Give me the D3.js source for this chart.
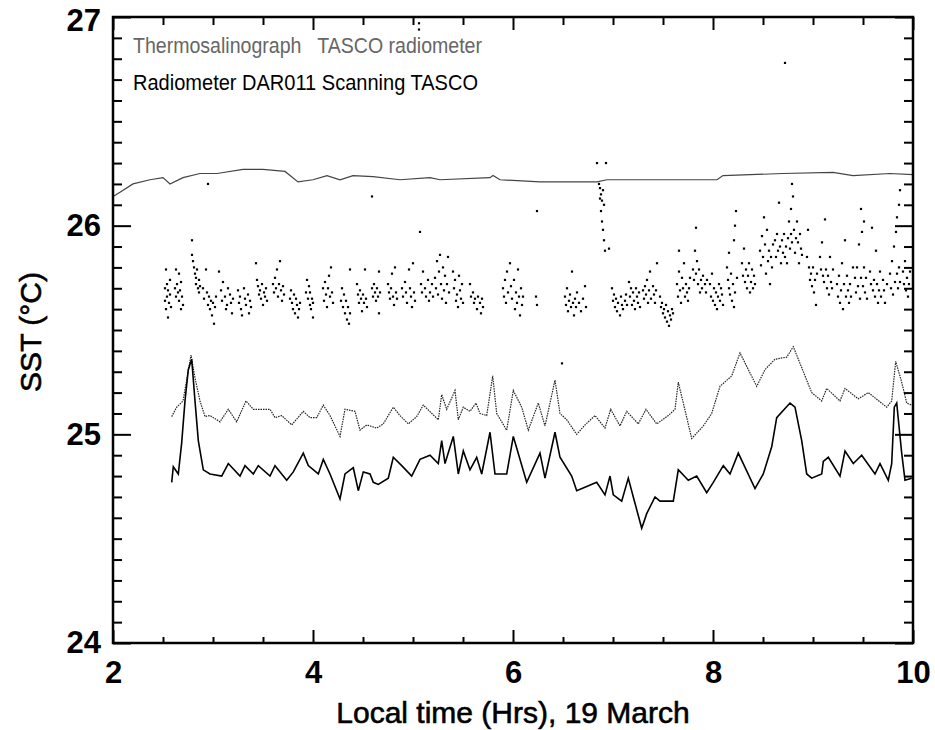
<!DOCTYPE html>
<html>
<head>
<meta charset="utf-8">
<script src="https://cdn.jsdelivr.net/npm/d3@7"></script>
<style>
  body { margin: 0; background: #fff; }
  svg text { font-family: "Liberation Sans", Arial, Helvetica, sans-serif; }
</style>
</head>
<body>
<script>
// axis ticks
var xMajor = [2, 4, 6, 8, 10];
var yMajor = [24, 25, 26, 27];

// thermosalinograph trace [hour, SST]
var thermo = [[2.00,26.14],[2.07,26.16],[2.20,26.20],[2.37,26.22],[2.50,26.23],[2.57,26.20],
  [2.70,26.23],[2.87,26.25],[3.04,26.25],[3.30,26.27],[3.50,26.27],[3.72,26.26],[3.85,26.21],
  [4.00,26.22],[4.14,26.24],[4.27,26.22],[4.40,26.24],[4.60,26.235],[4.87,26.22],[5.17,26.23],
  [5.27,26.22],[5.77,26.23],[5.80,26.24],[5.87,26.22],[6.27,26.21],[6.84,26.21],[6.94,26.22],
  [7.57,26.22],[8.04,26.22],[8.10,26.24],[8.70,26.25],[9.20,26.255],[9.40,26.24],[9.77,26.25],[10.0,26.245]];

// radiometer DAR011 trace
var dar011 = [[2.587,25.085],[2.637,25.13],[2.70,25.16],[2.737,25.26],[2.78,25.38],[2.82,25.27],
  [2.87,25.16],[2.92,25.085],[2.97,25.09],[3.07,25.06],[3.153,25.12],[3.237,25.06],[3.33,25.16],
  [3.403,25.12],[3.57,25.12],[3.62,25.08],[3.687,25.09],[3.787,25.045],[3.903,25.11],[3.97,25.08],
  [4.037,25.08],[4.103,25.14],[4.17,25.09],[4.27,24.99],[4.32,25.12],[4.42,25.11],[4.47,25.02],
  [4.537,25.045],[4.637,25.03],[4.703,25.05],[4.803,25.13],[4.87,25.09],[4.953,25.05],[5.037,25.085],
  [5.103,25.14],[5.253,25.07],[5.287,25.19],[5.337,25.12],[5.42,25.21],[5.453,25.07],[5.503,25.13],
  [5.57,25.11],[5.63,25.15],[5.67,25.10],[5.737,25.09],[5.797,25.28],[5.837,25.10],[5.937,25.02],
  [6.003,25.21],[6.087,25.13],[6.153,25.02],[6.253,25.15],[6.32,25.04],[6.37,25.15],[6.42,25.26],
  [6.47,25.10],[6.537,25.07],[6.637,25.00],[6.72,25.045],[6.82,25.09],[6.92,25.03],[6.977,25.12],
  [7.07,25.04],[7.137,25.11],[7.253,25.05],[7.33,25.12],[7.437,25.05],[7.553,25.09],[7.62,25.12],
  [7.653,25.25],[7.703,25.15],[7.787,24.98],[7.903,25.04],[7.987,25.10],[8.07,25.23],[8.187,25.28],
  [8.27,25.39],[8.437,25.23],[8.52,25.31],[8.62,25.36],[8.737,25.37],[8.803,25.42],[8.887,25.32],
  [8.987,25.20],[9.087,25.16],[9.137,25.22],[9.27,25.16],[9.32,25.22],[9.453,25.17],[9.553,25.20],
  [9.737,25.13],[9.787,25.16],[9.827,25.35],[9.887,25.25],[9.937,25.15],[9.987,25.14]];

// scanning TASCO trace
var scanning = [[2.587,24.77],[2.603,24.845],[2.653,24.81],[2.687,24.96],[2.72,25.16],[2.753,25.31],
  [2.787,25.36],[2.82,25.16],[2.853,24.97],[2.903,24.83],[2.97,24.81],[3.087,24.80],[3.153,24.86],
  [3.27,24.80],[3.32,24.85],[3.403,24.81],[3.453,24.85],[3.57,24.80],[3.62,24.85],[3.737,24.78],
  [3.803,24.82],[3.903,24.91],[3.953,24.85],[4.053,24.81],[4.103,24.88],[4.17,24.81],[4.27,24.69],
  [4.32,24.81],[4.403,24.84],[4.453,24.73],[4.503,24.82],[4.57,24.81],[4.603,24.77],[4.653,24.76],
  [4.753,24.79],[4.803,24.89],[4.887,24.85],[4.987,24.80],[5.07,24.88],[5.17,24.90],[5.253,24.86],
  [5.287,24.97],[5.32,24.86],[5.403,24.99],[5.453,24.81],[5.503,24.92],[5.57,24.83],[5.637,24.89],
  [5.687,24.81],[5.77,25.01],[5.82,24.81],[5.937,24.81],[6.003,24.99],[6.137,24.77],[6.27,24.91],
  [6.32,24.79],[6.42,25.01],[6.47,24.89],[6.587,24.80],[6.637,24.73],[6.737,24.75],[6.837,24.77],
  [6.92,24.71],[6.97,24.80],[7.003,24.71],[7.087,24.68],[7.153,24.79],[7.203,24.70],[7.287,24.55],
  [7.337,24.62],[7.42,24.70],[7.47,24.68],[7.603,24.68],[7.653,24.83],[7.753,24.78],[7.837,24.80],
  [7.937,24.72],[8.003,24.77],[8.103,24.85],[8.17,24.81],[8.253,24.91],[8.42,24.74],[8.503,24.81],
  [8.587,24.94],[8.637,25.08],[8.77,25.15],[8.82,25.13],[8.887,24.97],[8.937,24.81],[8.987,24.79],
  [9.087,24.81],[9.103,24.87],[9.153,24.89],[9.27,24.80],[9.32,24.92],[9.403,24.86],[9.487,24.90],
  [9.62,24.81],[9.67,24.86],[9.753,24.78],[9.787,24.86],[9.813,25.13],[9.837,25.15],[9.887,24.91],
  [9.92,24.78],[9.987,24.79]];

// TASCO radiometer samples (dots)
var tasco = [
  [2.52,25.70],[2.52,25.64],[2.53,25.79],[2.53,25.60],[2.54,25.72],[2.54,25.66],[2.55,25.69],[2.55,25.56],[2.56,25.63],[2.57,25.67],[2.57,25.74],[2.58,25.61],
  [2.62,25.70],[2.63,25.79],[2.63,25.66],[2.64,25.72],[2.65,25.68],[2.66,25.77],[2.66,25.64],[2.67,25.69],[2.68,25.60],[2.68,25.73],[2.69,25.66],[2.70,25.62],
  [2.79,25.93],[2.79,25.86],[2.80,25.83],[2.81,25.80],[2.82,25.77],[2.83,25.75],[2.83,25.72],[2.84,25.79],[2.85,25.70],[2.86,25.74],[2.86,25.68],[2.87,25.71],
  [2.90,25.70],[2.91,25.65],[2.93,25.79],[2.94,25.68],[2.95,25.62],[2.96,25.66],[2.97,25.60],[2.98,25.64],[2.99,25.57],[3.00,25.63],[3.01,25.53],[3.02,25.61],[3.03,25.66],
  [3.06,25.78],[3.08,25.69],[3.09,25.64],[3.10,25.73],[3.12,25.66],[3.13,25.60],[3.14,25.62],[3.15,25.70],[3.17,25.67],[3.18,25.63],[3.19,25.58],[3.20,25.65],
  [3.25,25.69],[3.26,25.63],[3.27,25.66],[3.28,25.60],[3.29,25.57],[3.31,25.70],[3.32,25.65],[3.33,25.62],[3.35,25.67],[3.36,25.58],[3.37,25.64],[3.38,25.61],
  [3.43,25.82],[3.44,25.74],[3.45,25.71],[3.46,25.67],[3.47,25.69],[3.48,25.65],[3.49,25.72],[3.50,25.62],[3.51,25.68],[3.52,25.66],[3.53,25.70],[3.54,25.64],
  [3.60,25.72],[3.61,25.68],[3.62,25.75],[3.63,25.70],[3.64,25.79],[3.65,25.66],[3.66,25.72],[3.67,25.83],[3.68,25.69],[3.69,25.64],[3.70,25.71],[3.71,25.67],
  [3.77,25.65],[3.78,25.69],[3.79,25.63],[3.80,25.60],[3.81,25.67],[3.82,25.58],[3.83,25.65],[3.84,25.62],[3.85,25.56],[3.86,25.60],[3.87,25.63],
  [3.93,25.68],[3.94,25.74],[3.95,25.65],[3.96,25.71],[3.97,25.62],[3.97,25.68],[3.98,25.60],[3.99,25.65],[4.00,25.56],[4.00,25.63],
  [4.10,25.70],[4.11,25.64],[4.12,25.73],[4.13,25.67],[4.14,25.61],[4.15,25.70],[4.16,25.76],[4.17,25.66],[4.18,25.80],[4.19,25.68],[4.20,25.63],
  [4.28,25.64],[4.29,25.70],[4.30,25.61],[4.31,25.67],[4.32,25.58],[4.33,25.64],[4.34,25.55],[4.35,25.61],[4.36,25.53],[4.37,25.79],[4.37,25.58],
  [4.44,25.72],[4.45,25.67],[4.46,25.63],[4.47,25.69],[4.48,25.65],[4.49,25.59],[4.50,25.67],[4.51,25.63],[4.52,25.79],[4.53,25.65],[4.54,25.61],
  [4.59,25.70],[4.60,25.66],[4.61,25.72],[4.62,25.68],[4.63,25.64],[4.64,25.70],[4.65,25.66],[4.66,25.58],[4.66,25.78],[4.67,25.68],
  [4.75,25.72],[4.76,25.68],[4.77,25.65],[4.78,25.70],[4.79,25.77],[4.80,25.66],[4.81,25.62],[4.82,25.80],[4.83,25.68],[4.84,25.65],
  [4.89,25.70],[4.90,25.66],[4.92,25.73],[4.93,25.68],[4.94,25.63],[4.96,25.79],[4.97,25.70],[4.98,25.66],[4.99,25.61],[5.00,25.82],[5.01,25.68],[5.02,25.64],
  [5.07,25.97],[5.08,25.72],[5.09,25.68],[5.10,25.78],[5.12,25.70],[5.13,25.66],[5.15,25.74],[5.16,25.64],[5.17,25.68],[5.19,25.72],[5.20,25.66],
  [5.22,25.75],[5.23,25.70],[5.24,25.83],[5.25,25.67],[5.26,25.78],[5.27,25.86],[5.28,25.72],[5.29,25.65],[5.30,25.80],[5.31,25.69],[5.32,25.76],[5.33,25.63],[5.34,25.72],[5.35,25.85],[5.36,25.68],
  [5.40,25.78],[5.41,25.70],[5.42,25.74],[5.43,25.64],[5.44,25.67],[5.45,25.61],[5.46,25.76],[5.47,25.69],[5.48,25.65],[5.49,25.72],[5.50,25.63],
  [5.57,25.72],[5.58,25.66],[5.60,25.68],[5.61,25.63],[5.62,25.65],[5.64,25.60],[5.65,25.66],[5.67,25.63],[5.68,25.58],[5.69,25.65],[5.70,25.61],
  [5.90,25.70],[5.91,25.66],[5.92,25.74],[5.93,25.63],[5.94,25.78],[5.95,25.68],[5.97,25.82],[5.98,25.71],[5.99,25.65],[6.01,25.74],[6.02,25.60],[6.03,25.68],[6.04,25.63],[6.05,25.79],[6.06,25.66],[6.07,25.57],[6.08,25.70],[6.09,25.62],[6.10,25.66],
  [6.24,26.07],[6.23,25.66],[6.24,25.62],
  [6.52,25.66],[6.53,25.62],[6.54,25.70],[6.55,25.59],[6.56,25.64],[6.57,25.67],[6.58,25.61],[6.59,25.78],[6.60,25.63],[6.61,25.57],[6.62,25.65],[6.63,25.61],[6.64,25.68],[6.66,25.63],[6.68,25.59],[6.70,25.65],[6.72,25.71],[6.73,25.61],
  [6.84,26.30],[6.86,26.20],[6.87,26.18],[6.87,26.13],[6.88,26.15],[6.88,26.07],[6.89,26.12],[6.89,26.02],[6.90,26.17],[6.90,25.98],[6.91,26.10],[6.91,25.93],[6.92,25.88],[6.93,26.30],[6.96,25.89],
  [6.99,25.70],[7.00,25.64],[7.01,25.67],[7.02,25.61],[7.03,25.65],[7.04,25.59],[7.05,25.63],[7.07,25.57],[7.08,25.66],[7.09,25.62],[7.10,25.60],[7.12,25.64],[7.13,25.67],[7.14,25.62],
  [7.16,25.73],[7.17,25.66],[7.18,25.70],[7.19,25.62],[7.20,25.68],[7.21,25.64],[7.22,25.60],[7.23,25.70],[7.24,25.66],[7.25,25.63],[7.26,25.68],[7.27,25.61],
  [7.30,25.69],[7.31,25.65],[7.32,25.71],[7.33,25.67],[7.34,25.74],[7.35,25.63],[7.36,25.69],[7.37,25.78],[7.38,25.65],[7.40,25.71],[7.41,25.67],[7.42,25.63],[7.43,25.69],[7.44,25.82],
  [7.47,25.66],[7.48,25.61],[7.49,25.63],[7.50,25.58],[7.51,25.60],[7.52,25.56],[7.53,25.62],[7.54,25.54],[7.55,25.59],[7.56,25.52],[7.57,25.57],[7.58,25.55],[7.59,25.60],[7.60,25.58],
  [7.64,25.72],[7.65,25.66],[7.66,25.88],[7.66,25.78],[7.67,25.69],[7.68,25.63],[7.69,25.75],[7.70,25.70],[7.71,25.82],[7.72,25.66],[7.73,25.72],[7.74,25.68],[7.75,25.64],[7.76,25.70],[7.77,25.75],
  [7.80,25.79],[7.81,25.74],[7.82,25.88],[7.83,25.99],[7.83,25.77],[7.84,25.83],[7.85,25.72],[7.86,25.79],[7.87,25.68],[7.88,25.74],[7.89,25.70],[7.90,25.76],[7.92,25.72],[7.93,25.68],[7.94,25.74],
  [7.97,25.72],[7.98,25.66],[7.99,25.77],[8.00,25.64],[8.01,25.70],[8.02,25.62],[8.03,25.68],[8.04,25.60],[8.05,25.66],[8.06,25.72],[8.07,25.64],[8.08,25.70],[8.09,25.67],[8.10,25.62],
  [8.14,25.80],[8.15,25.74],[8.16,25.87],[8.16,25.70],[8.17,25.67],[8.18,25.77],[8.19,25.64],[8.20,25.72],[8.21,25.93],[8.21,25.61],[8.22,26.00],[8.22,25.68],[8.23,26.07],[8.24,25.75],
  [8.29,25.82],[8.30,25.76],[8.31,25.89],[8.32,25.73],[8.33,25.79],[8.34,25.70],[8.35,25.76],[8.36,25.82],[8.37,25.68],[8.38,25.73],[8.39,25.79],[8.40,25.70],[8.41,25.76],[8.42,25.72],
  [8.47,25.88],[8.48,25.81],[8.49,25.95],[8.50,25.85],[8.51,26.04],[8.52,25.91],[8.53,25.77],[8.54,25.98],[8.55,25.83],[8.56,25.88],[8.57,25.72],[8.58,25.85],[8.59,25.80],[8.60,25.91],
  [8.62,25.93],[8.63,25.85],[8.64,25.96],[8.65,25.88],[8.66,26.11],[8.67,25.90],[8.68,25.82],[8.69,25.93],[8.70,25.87],[8.71,25.96],[8.72,25.85],[8.72,26.78],[8.73,25.90],[8.74,25.82],
  [8.75,25.94],[8.76,26.02],[8.77,25.89],[8.78,26.08],[8.78,25.96],[8.79,26.20],[8.79,25.92],[8.80,26.14],[8.81,25.98],[8.82,25.87],[8.83,25.94],[8.84,26.02],[8.85,25.92],[8.86,25.82],[8.87,25.96],[8.88,25.89],[8.89,25.86],
  [8.94,25.85],[8.95,25.98],[8.96,25.80],[8.97,25.74],[8.98,25.77],[8.99,25.71],[9.00,25.80],[9.01,25.68],[9.02,25.74],[9.03,25.62],[9.04,25.77],
  [9.07,25.85],[9.08,25.79],[9.09,25.92],[9.10,25.76],[9.11,25.73],[9.12,26.03],[9.13,25.79],[9.14,25.70],[9.15,25.76],[9.16,25.67],[9.17,25.85],[9.18,25.73],[9.19,25.70],[9.20,25.79],
  [9.24,25.72],[9.25,25.66],[9.26,25.76],[9.27,25.63],[9.28,25.69],[9.29,25.82],[9.30,25.60],[9.31,25.72],[9.32,25.93],[9.33,25.66],[9.34,25.76],[9.35,25.69],[9.36,25.63],[9.37,25.72],[9.38,25.66],[9.40,25.80],
  [9.42,25.75],[9.43,25.68],[9.44,25.80],[9.45,25.71],[9.46,25.91],[9.47,25.65],[9.48,26.08],[9.48,25.75],[9.49,25.97],[9.50,25.71],[9.51,26.02],[9.51,25.80],[9.52,25.68],[9.53,25.75],[9.54,25.65],
  [9.57,25.78],[9.58,25.72],[9.59,25.99],[9.60,25.69],[9.61,25.74],[9.62,25.66],[9.63,25.88],[9.64,25.72],[9.65,25.63],[9.66,25.69],[9.67,25.78],[9.68,25.66],[9.70,25.74],[9.71,25.69],[9.72,25.63],[9.74,25.72],
  [9.77,25.77],[9.78,25.70],[9.79,25.83],[9.80,25.67],[9.81,25.90],[9.82,25.73],[9.83,25.97],[9.84,25.77],[9.84,26.04],[9.85,25.70],[9.86,26.10],[9.86,25.80],[9.87,26.17],[9.87,25.73],
  [9.90,25.78],[9.91,25.72],[9.92,25.83],[9.93,25.69],[9.94,25.75],[9.95,25.66],[9.96,25.72],[9.97,25.78],
  [2.95,26.20],[4.59,26.14],[6.49,25.34],[5.06,26.97],[5.06,26.94]
];

var legendLines = ["Thermosalinograph   TASCO radiometer", "Radiometer DAR011 Scanning TASCO"];

var W = 935, H = 730;
var plot = {left: 113, right: 913, top: 17, bottom: 643};

var svg = d3.select("body").append("svg").attr("width", W).attr("height", H);

var x = d3.scaleLinear().domain([2, 10]).range([plot.left, plot.right]);
var y = d3.scaleLinear().domain([24, 27]).range([plot.bottom, plot.top]);

var line = d3.line().x(function(d){ return x(d[0]); }).y(function(d){ return y(d[1]); });

// data
svg.append("path").datum(thermo).attr("d", line)
    .attr("fill", "none").attr("stroke", "#444").attr("stroke-width", 1.2);
svg.append("path").datum(dar011).attr("d", line)
    .attr("fill", "none").attr("stroke", "#222").attr("stroke-width", 1.2)
    .attr("stroke-dasharray", "1.5,1");
svg.append("path").datum(scanning).attr("d", line)
    .attr("fill", "none").attr("stroke", "#000").attr("stroke-width", 1.6);
svg.append("g").selectAll("rect").data(tasco).join("rect")
    .attr("x", function(d){ return x(d[0]) - 1.1; })
    .attr("y", function(d){ return y(d[1]) - 1.1; })
    .attr("width", 2.2).attr("height", 2.2).attr("fill", "#000");

// axes, ticks pointing inward on all four sides
var minorX = d3.range(2, 10.001, 0.5).filter(function(v){ return xMajor.indexOf(v) < 0; });
var minorY = d3.range(240, 271).map(function(v){ return v / 10; }).filter(function(v){ return yMajor.indexOf(v) < 0; });

function addAxis(axis, tx, ty, labels) {
    var g = svg.append("g").attr("transform", "translate(" + tx + "," + ty + ")").call(axis);
    g.select(".domain").remove();
    g.selectAll(".tick line").attr("stroke", "#000").attr("stroke-width", 2);
    if (!labels) g.selectAll(".tick text").remove();
    return g;
}

var gx = addAxis(d3.axisBottom(x).tickValues(xMajor).tickSize(-13).tickPadding(18).tickFormat(d3.format("d")), 0, plot.bottom, true);
addAxis(d3.axisBottom(x).tickValues(minorX).tickSize(-6), 0, plot.bottom, false);
addAxis(d3.axisTop(x).tickValues(xMajor).tickSize(-13), 0, plot.top, false);
addAxis(d3.axisTop(x).tickValues(minorX).tickSize(-8), 0, plot.top, false);

var gy = addAxis(d3.axisLeft(y).tickValues(yMajor).tickSize(-18).tickPadding(12).tickFormat(d3.format("d")), plot.left, 0, true);
addAxis(d3.axisLeft(y).tickValues(minorY).tickSize(-9), plot.left, 0, false);
addAxis(d3.axisRight(y).tickValues(yMajor).tickSize(-18), plot.right, 0, false);
addAxis(d3.axisRight(y).tickValues(minorY).tickSize(-9), plot.right, 0, false);

gx.selectAll(".tick text").attr("font-size", 31).attr("font-weight", "bold").attr("fill", "#000")
    .attr("dy", "0.71em");
gy.selectAll(".tick text").attr("font-size", 31).attr("font-weight", "bold").attr("fill", "#000");
gy.selectAll(".tick").filter(function(d){ return d === 27; }).select("text").attr("dy", "0.45em");

// frame
svg.append("rect").attr("x", plot.left).attr("y", plot.top)
    .attr("width", plot.right - plot.left).attr("height", plot.bottom - plot.top)
    .attr("fill", "none").attr("stroke", "#000").attr("stroke-width", 2.5);

// titles
svg.append("text").attr("x", (plot.left + plot.right) / 2).attr("y", 723)
    .attr("text-anchor", "middle").attr("font-size", 30).attr("fill", "#000")
    .attr("stroke", "#000").attr("stroke-width", 0.6)
    .text("Local time (Hrs), 19 March");
svg.append("text").attr("transform", "translate(41,332) rotate(-90)")
    .attr("text-anchor", "middle").attr("font-size", 30).attr("fill", "#000")
    .attr("stroke", "#000").attr("stroke-width", 0.6)
    .text("SST (\u00B0C)");

// legend text
svg.append("text").attr("x", 133).attr("y", 53).attr("font-size", 22).attr("fill", "#666")
    .attr("textLength", 349).attr("lengthAdjust", "spacingAndGlyphs")
    .style("white-space", "pre").text(legendLines[0]);
svg.append("text").attr("x", 133).attr("y", 90).attr("font-size", 22).attr("fill", "#000")
    .attr("textLength", 345).attr("lengthAdjust", "spacingAndGlyphs")
    .text(legendLines[1]);
</script>
</body>
</html>
